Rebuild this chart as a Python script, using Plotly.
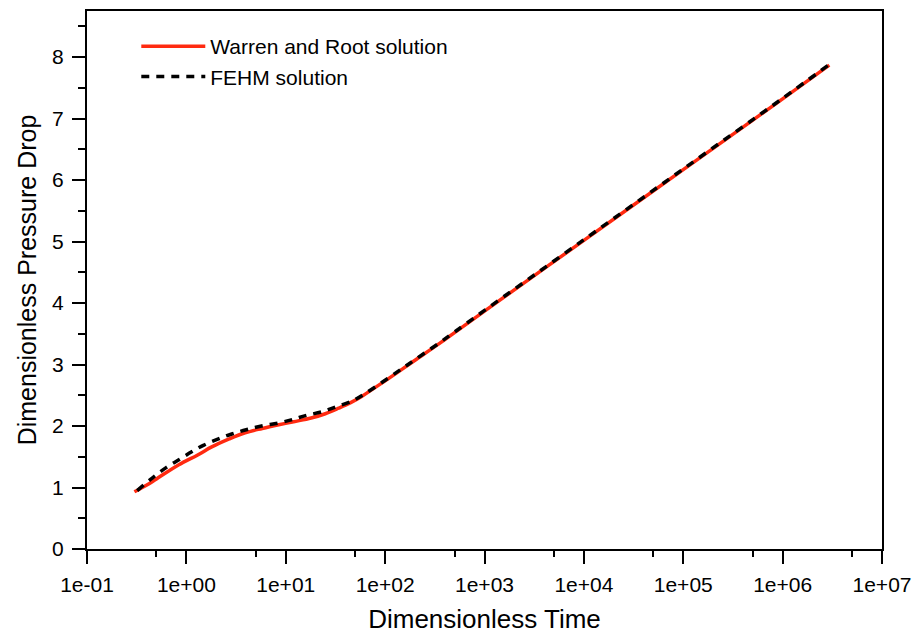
import plotly.graph_objects as go

# Warren and Root solution
wr_time = [0.30, 0.40, 0.50, 0.84, 1.3, 1.8, 2.7, 3.9, 5.8, 8.5, 12, 18, 25, 34, 45, 58, 75, 100, 150, 200, 350, 500, 1e3, 1e4, 1e5, 1e6, 2.95e6]
wr_pd = [0.93, 1.04, 1.14, 1.37, 1.53, 1.66, 1.79, 1.89, 1.96, 2.02, 2.07, 2.13, 2.20, 2.29, 2.38, 2.48, 2.60, 2.735, 2.93, 3.07, 3.34, 3.52, 3.87, 5.02, 6.17, 7.32, 7.87]

# FEHM solution
fehm_time = [0.32, 0.45, 0.62, 0.84, 1.13, 1.5, 2.1, 2.86, 4.0, 5.7, 8.5, 12, 15.8, 23, 31.6, 45.7, 63, 100, 150, 200, 350, 500, 1e3, 1e4, 1e5, 1e6, 2.95e6]
fehm_pd = [0.95, 1.15, 1.32, 1.45, 1.58, 1.69, 1.79, 1.87, 1.94, 2.00, 2.05, 2.11, 2.17, 2.23, 2.31, 2.40, 2.53, 2.745, 2.94, 3.08, 3.35, 3.53, 3.88, 5.03, 6.18, 7.33, 7.88]

x_tickvals = [1e-1, 1e0, 1e1, 1e2, 1e3, 1e4, 1e5, 1e6, 1e7]
x_ticktext = ["1e-01", "1e+00", "1e+01", "1e+02", "1e+03", "1e+04", "1e+05", "1e+06", "1e+07"]
x_minorvals = [5e-1, 5e0, 5e1, 5e2, 5e3, 5e4, 5e5, 5e6]
y_tickvals = [0, 1, 2, 3, 4, 5, 6, 7, 8]
y_minorvals = [0.5, 1.5, 2.5, 3.5, 4.5, 5.5, 6.5, 7.5, 8.5]

FONT = "Liberation Sans, Arial, sans-serif"

fig = go.Figure()
fig.add_trace(go.Scatter(
    x=wr_time, y=wr_pd, mode="lines", name="Warren and Root solution",
    line=dict(color="#ff2a10", width=3.5, shape="spline", smoothing=1.0),
))
fig.add_trace(go.Scatter(
    x=fehm_time, y=fehm_pd, mode="lines", name="FEHM solution",
    line=dict(color="black", width=3.5, dash="8px,7px", shape="spline", smoothing=1.0),
))

axis_common = dict(
    showgrid=False, zeroline=False, showline=True, linecolor="black", linewidth=2,
    mirror=True, ticks="outside", tickcolor="black", tickwidth=2,
    tickfont=dict(family=FONT, size=21, color="black"),
    automargin=False,
)

fig.update_layout(
    width=918, height=634,
    margin=dict(l=87, r=36, t=11, b=85),
    paper_bgcolor="white", plot_bgcolor="white",
    font=dict(family=FONT, color="black"),
    showlegend=True,
    legend=dict(
        x=0.062, y=0.972, xanchor="left", yanchor="top",
        bgcolor="rgba(0,0,0,0)", borderwidth=0,
        font=dict(family=FONT, size=21, color="black"),
        tracegroupgap=0, itemwidth=64,
    ),
    xaxis=dict(
        type="log", range=[-1, 7],
        tickmode="array", tickvals=x_tickvals, ticktext=x_ticktext, ticklen=13,
        ticklabelstandoff=3,
        minor=dict(tickmode="array", tickvals=x_minorvals, ticks="outside", ticklen=6, tickwidth=2, tickcolor="black"),
        title=dict(text="Dimensionless Time", font=dict(family=FONT, size=26, color="black"), standoff=16),
        **axis_common,
    ),
    yaxis=dict(
        range=[0, 8.75],
        tickmode="array", tickvals=y_tickvals, ticklen=13,
        ticklabelstandoff=4,
        minor=dict(tickmode="array", tickvals=y_minorvals, ticks="outside", ticklen=7, tickwidth=2, tickcolor="black"),
        title=dict(text="Dimensionless Pressure Drop", font=dict(family=FONT, size=25, color="black"), standoff=8),
        **axis_common,
    ),
)

fig.write_html("out.html")
